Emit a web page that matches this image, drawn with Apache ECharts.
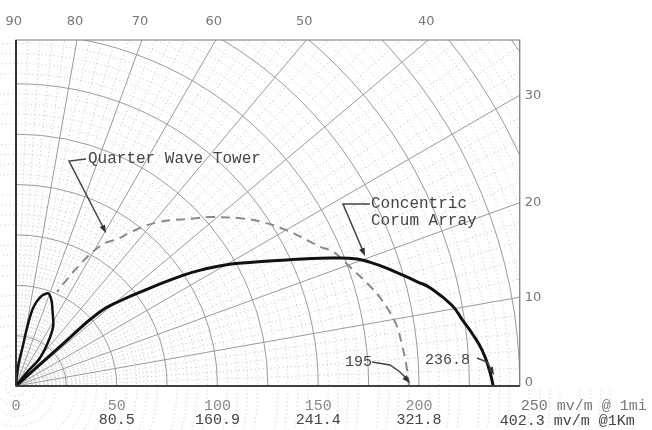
<!DOCTYPE html>
<html>
<head>
<meta charset="utf-8">
<script src="https://cdn.jsdelivr.net/npm/echarts@6/dist/echarts.min.js"></script>
<style>
html, body { margin: 0; padding: 0; background: #fff; }
#chart { width: 652px; height: 430px; }
</style>
</head>
<body>
<div id="chart"></div>
<script>
// field strength (mv/m @ 1mi) against elevation angle (deg), as [radius, angle]
var corumArray = [
    [236.8, 0], [235, 2], [232, 4.4], [228, 6.5], [224, 8.4], [220, 10.5], [211, 13.4],
    [206, 14.5], [198, 16.4], [186, 19.3], [177, 21], [168, 22.2], [160, 23.3],
    [146, 25.3], [131, 27.9], [122, 29.7], [110, 31.8], [99, 33.6], [82, 36.2],
    [68, 39], [55, 41.5], [30, 41.8], [0, 42]
];
var corumLobe = [
    [0, 46], [9, 51], [18, 49.4], [29, 54.8], [36, 59], [41, 63.7], [46, 67.5],
    [48.7, 71], [46, 74.5], [39.5, 77.7], [29, 79.3], [20.5, 80.2], [10, 84], [0, 86]
];
var quarterWave = [
    [195, 0], [194, 3], [192.5, 6.4], [191, 9.4], [186.5, 13.2], [183, 15.5],
    [176, 19.6], [171, 22.9], [166, 24.6], [160, 27.4], [155, 29.9], [147, 33.6],
    [139, 36.8], [127, 41.3], [122, 43], [107, 49.3], [95, 53.4], [89, 55.2],
    [82, 58.7], [67, 62.5], [51, 66.4]
];

var mileTicks = [0, 50, 100, 150, 200, 250];
var mileLabels = ['0', '50', '100', '150', '200', '250 mv/m @ 1mi'];
var kmLabels = ['', '80.5', '160.9', '241.4', '321.8', '402.3 mv/m @1Km'];
var topAngles = [90, 80, 70, 60, 50, 40];
var rightAngles = [30, 20, 10, 0];

var cx = 16, cy = 386, pxPerUnit = 2.015;
var boxTop = 40;
var boxRight = cx + 250 * pxPerUnit;

var mono = '"Liberation Mono", "DejaVu Sans Mono", monospace';
var sans = '"DejaVu Sans", sans-serif';

function arrow(x1, y1, x2, y2) {
    var dx = x2 - x1, dy = y2 - y1;
    var len = Math.sqrt(dx * dx + dy * dy);
    dx /= len; dy /= len;
    var bx = x2 - dx * 8, by = y2 - dy * 8;
    return {
        type: 'polygon', z: 52,
        shape: { points: [[x2, y2], [bx - dy * 3, by + dx * 3], [bx + dy * 3, by - dx * 3]] },
        style: { fill: '#333' }
    };
}

function leader(points) {
    return {
        type: 'polyline', z: 52,
        shape: { points: points },
        style: { stroke: '#444', lineWidth: 1.5, fill: null }
    };
}

function note(txt, x, y, size) {
    return {
        type: 'text', z: 52, x: x, y: y,
        style: { text: txt, fill: '#444', font: (size || 16) + 'px ' + mono, verticalAlign: 'middle' }
    };
}

var graphics = [
    // mask everything outside the plotting box
    { type: 'rect', z: 50, shape: { x: 0, y: 0, width: 652, height: boxTop }, style: { fill: '#fff' } },
    { type: 'rect', z: 50, shape: { x: boxRight, y: 0, width: 652 - boxRight, height: cy + 3 }, style: { fill: '#fff' } },
    { type: 'rect', z: 51, shape: { x: cx, y: boxTop, width: boxRight - cx, height: cy - boxTop },
      style: { fill: null, stroke: '#777', lineWidth: 1.2 } },
    { type: 'line', z: 51, shape: { x1: cx, y1: boxTop, x2: cx, y2: cy }, style: { stroke: '#333', lineWidth: 2 } },
    { type: 'line', z: 51, shape: { x1: cx, y1: cy, x2: boxRight, y2: cy }, style: { stroke: '#333', lineWidth: 1.5 } }
];

topAngles.forEach(function (a) {
    var x = a === 90 ? cx : cx + (cy - boxTop) / Math.tan(a * Math.PI / 180);
    graphics.push({
        type: 'text', z: 52, x: a === 90 ? x + 6 : x - 2, y: 22,
        style: { text: String(a), fill: '#777', font: '13px ' + sans, align: a === 90 ? 'right' : 'center', verticalAlign: 'middle' }
    });
});
rightAngles.forEach(function (a) {
    var y = cy - (boxRight - cx) * Math.tan(a * Math.PI / 180);
    graphics.push({
        type: 'text', z: 52, x: boxRight + 5, y: a === 0 ? y - 3 : y,
        style: { text: String(a), fill: '#777', font: '13px ' + sans, verticalAlign: 'middle' }
    });
});

graphics.push(
    { type: 'text', z: 52, x: boxRight + 1, y: 406,
      style: { text: mileLabels[5], fill: '#777', font: '15px ' + mono, verticalAlign: 'middle' } },
    { type: 'text', z: 52, x: boxRight - 20, y: 421,
      style: { text: kmLabels[5], fill: '#444', font: '15px ' + mono, verticalAlign: 'middle' } },

    note('Quarter Wave Tower', 88, 159),
    leader([[86, 159], [69, 161], [104, 229]]), arrow(69, 161, 106, 233),
    note('Concentric', 371, 204),
    note('Corum Array', 371, 221),
    leader([[370, 204], [343, 204], [363, 251]]), arrow(343, 204, 365, 256),
    note('195', 345, 362, 15),
    leader([[372, 362], [390, 365], [400, 372], [407, 379]]), arrow(400, 372, 410, 383),
    note('236.8', 425, 360, 15),
    leader([[477, 358], [487, 362], [491, 369]]), arrow(487, 362, 494, 375)
);

var myChart = echarts.init(document.getElementById('chart'));
var option = {
    animation: false,
    backgroundColor: '#fff',
    polar: {
        center: [cx, cy],
        radius: 300 * pxPerUnit
    },
    angleAxis: {
        type: 'value',
        min: 0,
        max: 90,
        interval: 10,
        startAngle: 0,
        endAngle: 90,
        clockwise: false,
        axisLine: { show: false },
        axisTick: { show: false },
        axisLabel: { show: false },
        splitLine: { lineStyle: { color: '#9a9a9a', width: 1 } },
        minorTick: { show: false, splitNumber: 5 },
        minorSplitLine: { show: true, lineStyle: { color: '#c4c4c4', type: [1, 3] } }
    },
    radiusAxis: {
        type: 'value',
        min: 0,
        max: 300,
        interval: 25,
        axisLine: { lineStyle: { color: '#333', width: 1.5 } },
        axisTick: { show: false },
        splitLine: { lineStyle: { color: '#9a9a9a', width: 1 } },
        minorTick: { show: false, splitNumber: 5 },
        minorSplitLine: { show: true, lineStyle: { color: '#c4c4c4', type: [1, 3] } },
        axisLabel: {
            margin: -13,
            verticalAlign: 'top',
            lineHeight: 14,
            formatter: function (v) {
                var i = mileTicks.indexOf(v);
                if (i < 0 || i === 5) return '';
                return '{a|' + mileLabels[i] + '}' + (kmLabels[i] ? '\n{b|' + kmLabels[i] + '}' : '');
            },
            rich: {
                a: { color: '#888', fontFamily: mono, fontSize: 15, lineHeight: 14 },
                b: { color: '#444', fontFamily: mono, fontSize: 15, lineHeight: 14 }
            }
        }
    },
    series: [
        {
            name: 'Concentric Corum Array',
            type: 'line',
            coordinateSystem: 'polar',
            data: corumArray,
            showSymbol: false,
            smooth: 0.5,
            lineStyle: { color: '#111', width: 3 },
            z: 5
        },
        {
            name: 'Concentric Corum Array',
            type: 'line',
            coordinateSystem: 'polar',
            data: corumLobe,
            showSymbol: false,
            smooth: 0.3,
            lineStyle: { color: '#111', width: 2.5 },
            z: 5
        },
        {
            name: 'Quarter Wave Tower',
            type: 'line',
            coordinateSystem: 'polar',
            data: quarterWave,
            showSymbol: false,
            smooth: 0.4,
            lineStyle: { color: '#8a8a8a', width: 2, type: [9, 6] },
            z: 4
        }
    ],
    graphic: graphics
};
myChart.setOption(option);
window.addEventListener('resize', function () {
    myChart.resize();
});
</script>
</body>
</html>
